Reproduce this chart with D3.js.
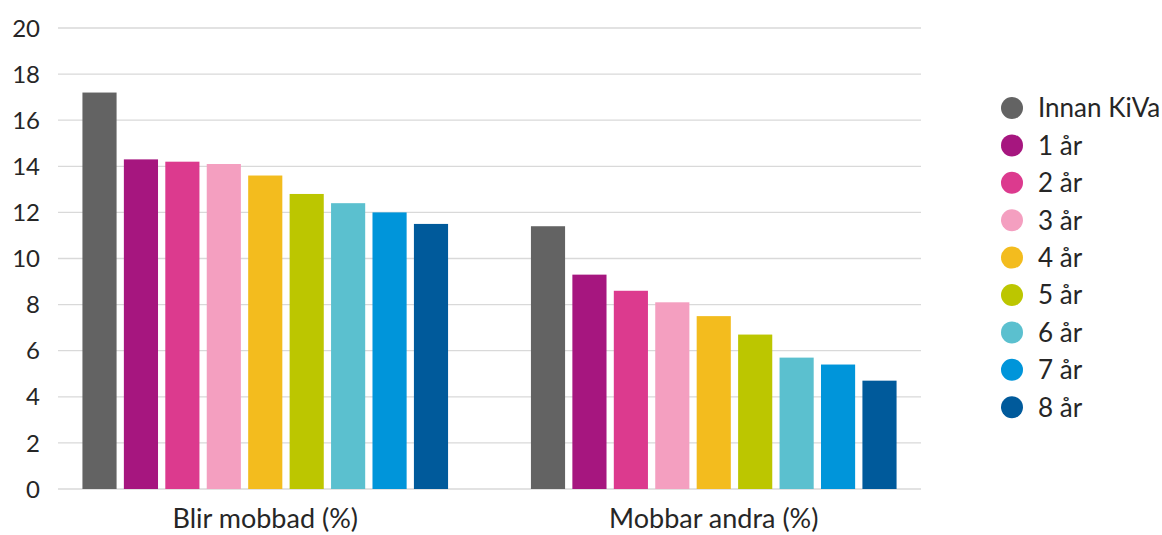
<!DOCTYPE html>
<html>
<head>
<meta charset="utf-8">
<script src="https://cdn.jsdelivr.net/npm/d3@7"></script>
<style>
  body { margin: 0; background: #fff; }
  text { font-family: Lato, "Open Sans", sans-serif; fill: #262626; }
</style>
</head>
<body>
<div id="wrapper"></div>
<script>
// data
const categories = ["Blir mobbad (%)", "Mobbar andra (%)"]
const seriesNames = ["Innan KiVa", "1 år", "2 år", "3 år", "4 år", "5 år", "6 år", "7 år", "8 år"]
const blirMobbad = [17.2, 14.3, 14.2, 14.1, 13.6, 12.8, 12.4, 12.0, 11.5]
const mobbarAndra = [11.4, 9.3, 8.6, 8.1, 7.5, 6.7, 5.7, 5.4, 4.7]
const seriesColors = ["#636363", "#a6167f", "#dc3a8e", "#f49fc0", "#f3bc1e", "#bcc600", "#5bc0cf", "#0095da", "#005a9b"]
const yTicks = [0, 2, 4, 6, 8, 10, 12, 14, 16, 18, 20]

const valuesByCategory = [blirMobbad, mobbarAndra]

// dimensions
const width = 1162
const height = 535
const plot = { top: 28, bottom: 489, gridLeft: 58, gridRight: 921, bandLeft: 41, bandRight: 938 }

const svg = d3.select("#wrapper")
  .append("svg")
    .attr("width", width)
    .attr("height", height)

// scales
const yScale = d3.scaleLinear()
  .domain([0, 20])
  .range([plot.bottom, plot.top])

const x0 = d3.scaleBand()
  .domain(categories)
  .range([plot.bandLeft, plot.bandRight])

const x1 = d3.scaleBand()
  .domain(seriesNames)
  .range([0, x0.bandwidth()])
  .paddingInner(0.176)
  .paddingOuter(1.0)

const color = d3.scaleOrdinal()
  .domain(seriesNames)
  .range(seriesColors)

// gridlines
svg.append("g")
  .selectAll("line")
  .data(yTicks)
  .join("line")
    .attr("x1", plot.gridLeft)
    .attr("x2", plot.gridRight)
    .attr("y1", d => yScale(d))
    .attr("y2", d => yScale(d))
    .attr("stroke", "#d9d9d9")
    .attr("stroke-width", 1.3)

// y axis labels
svg.append("g")
  .selectAll("text")
  .data(yTicks)
  .join("text")
    .attr("x", 40)
    .attr("y", d => yScale(d))
    .attr("dy", "0.36em")
    .attr("text-anchor", "end")
    .style("font-size", "24px")
    .text(d => d)

// bars
const groups = svg.append("g")
  .selectAll("g")
  .data(categories)
  .join("g")
    .attr("transform", d => `translate(${x0(d)},0)`)

groups.selectAll("rect")
  .data((d, i) => seriesNames.map((s, j) => ({ series: s, value: valuesByCategory[i][j] })))
  .join("rect")
    .attr("x", d => x1(d.series))
    .attr("width", x1.bandwidth())
    .attr("y", d => yScale(d.value))
    .attr("height", d => yScale(0) - yScale(d.value))
    .attr("fill", d => color(d.series))

// category labels
svg.append("g")
  .selectAll("text")
  .data(categories)
  .join("text")
    .attr("x", d => x0(d) + x0.bandwidth() / 2)
    .attr("y", 528)
    .attr("text-anchor", "middle")
    .style("font-size", "27px")
    .text(d => d)

// legend
const legend = svg.append("g")
  .attr("transform", "translate(1012,108)")

const legendItems = legend.selectAll("g")
  .data(seriesNames)
  .join("g")
    .attr("transform", (d, i) => `translate(0,${i * 37.4})`)

legendItems.append("circle")
  .attr("r", 11)
  .attr("fill", d => color(d))

legendItems.append("text")
  .attr("x", 26)
  .attr("dy", "0.36em")
  .style("font-size", "26px")
  .text(d => d)
</script>
</body>
</html>
